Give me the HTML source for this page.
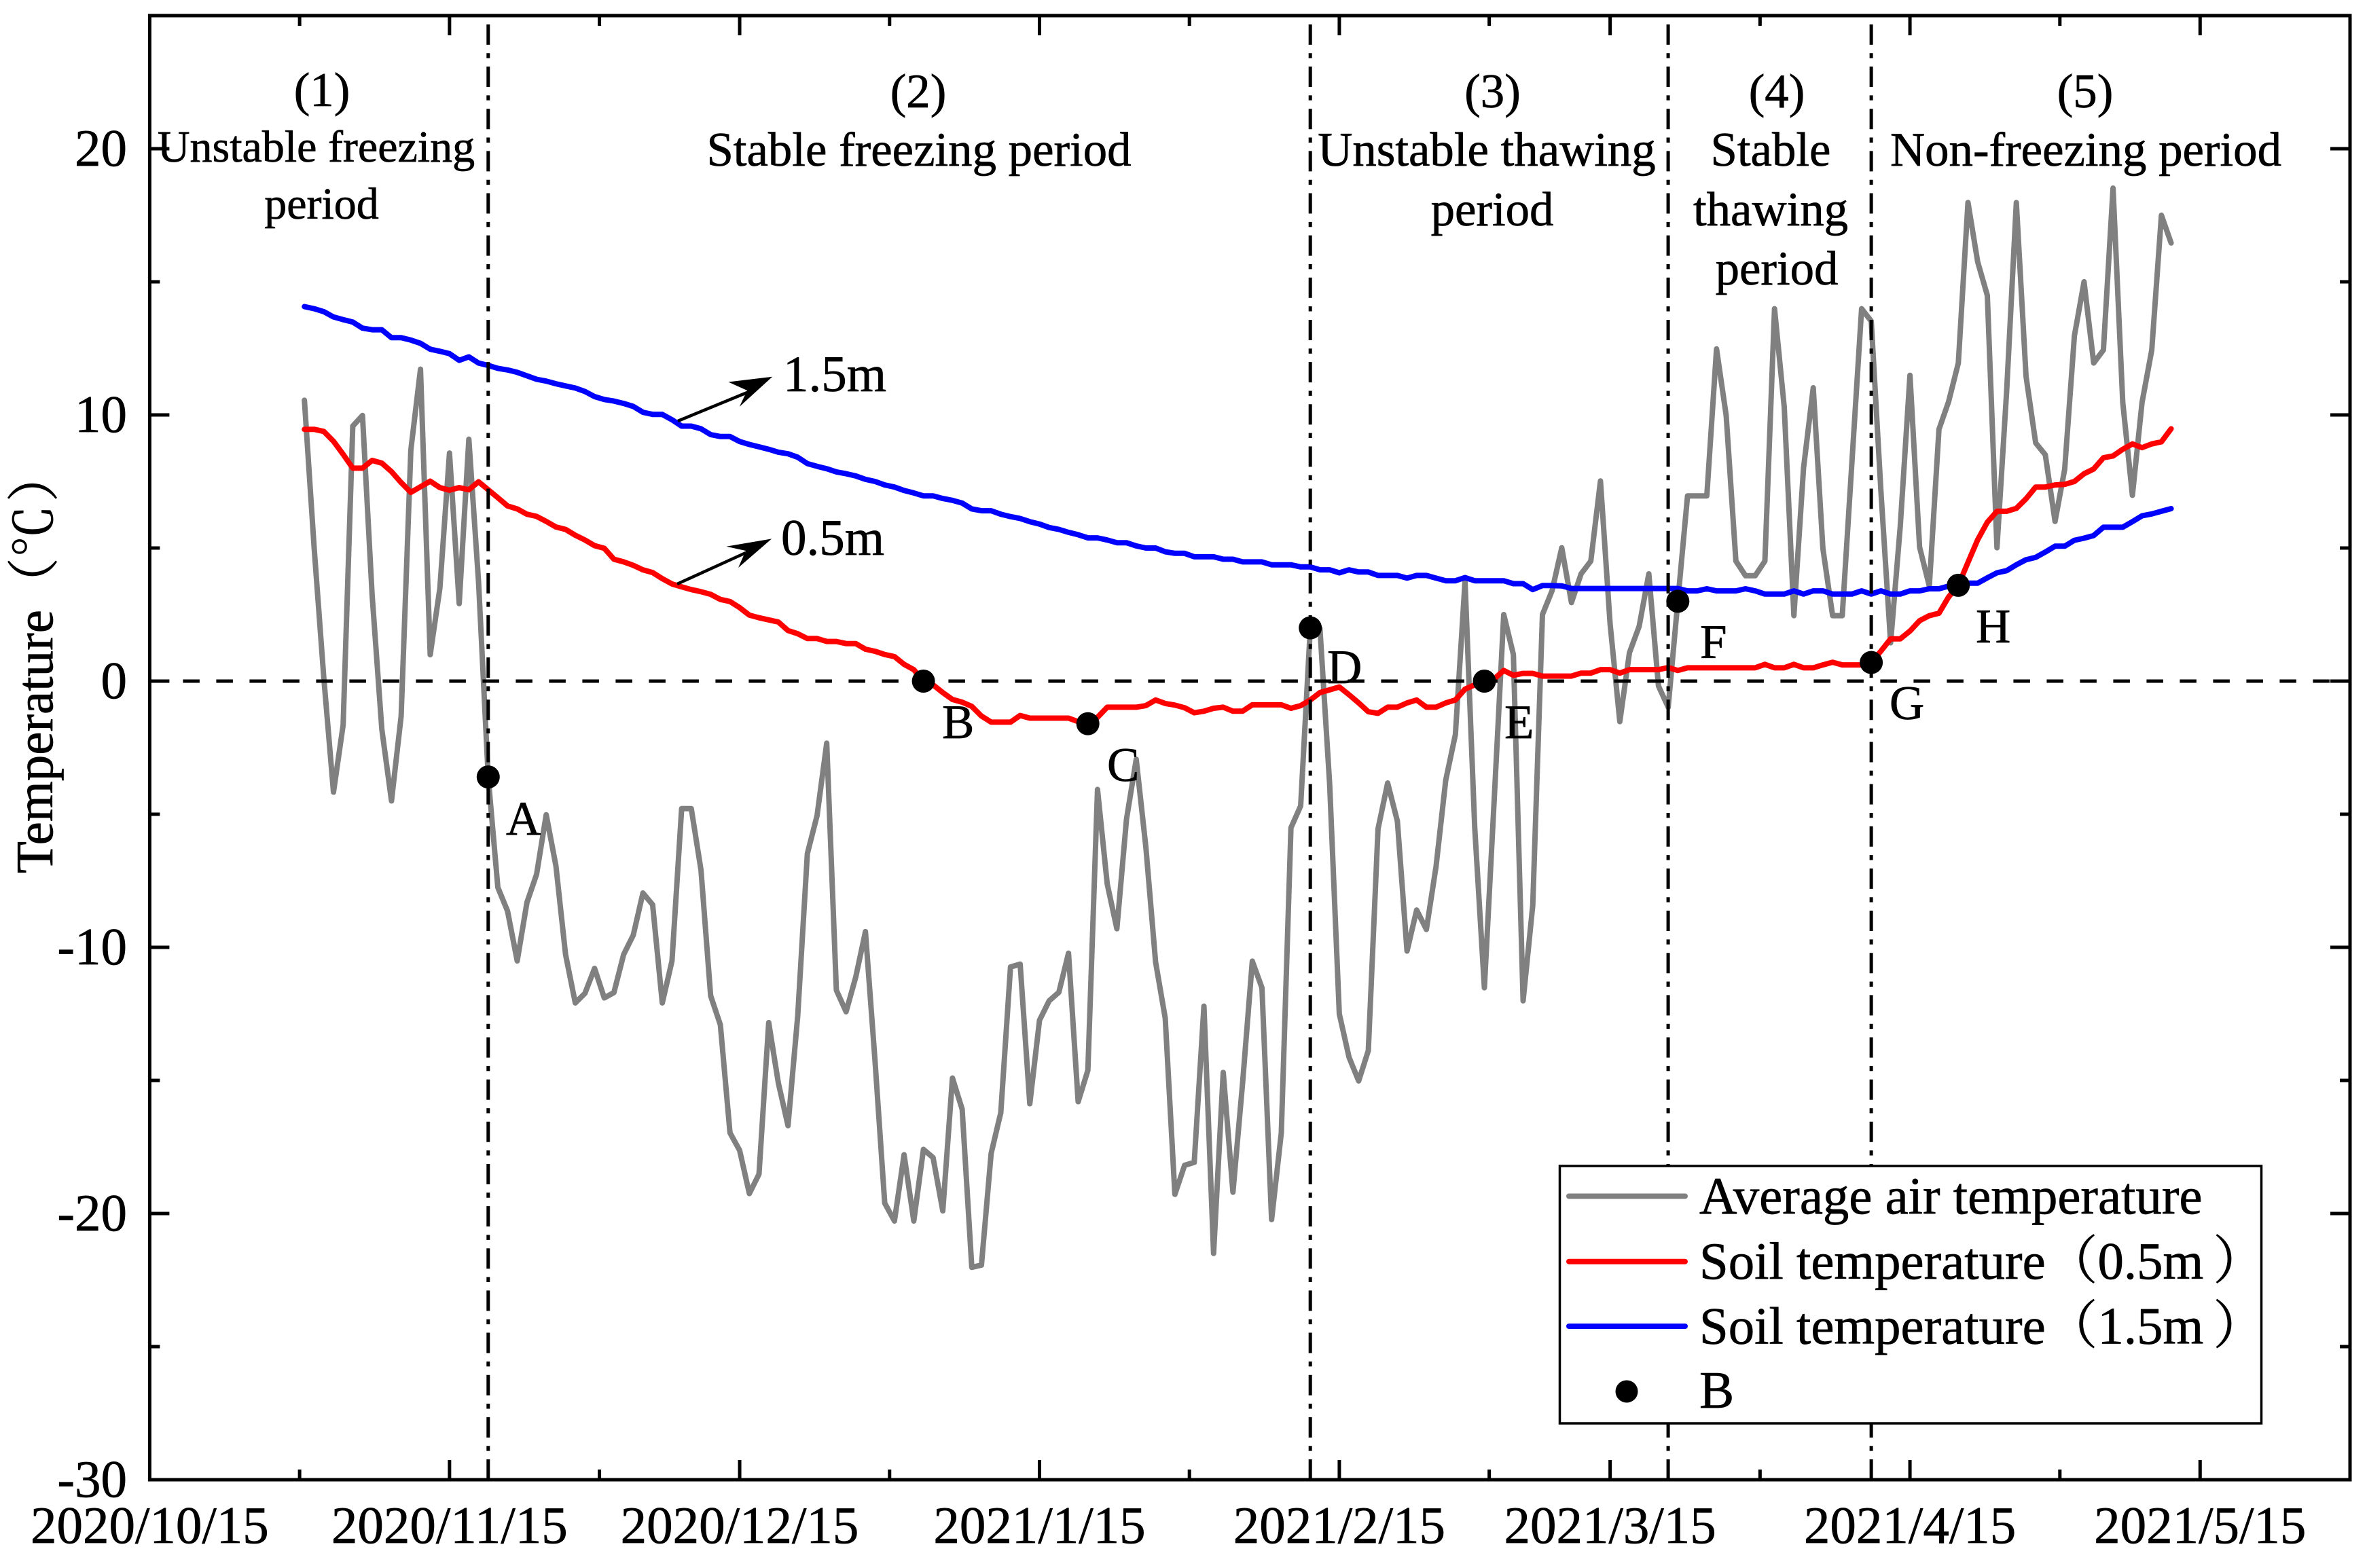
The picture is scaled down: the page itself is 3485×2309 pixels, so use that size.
<!DOCTYPE html>
<html lang="en">
<head>
<meta charset="utf-8">
<title>Air and soil temperature by freezing period</title>
<style>
html,body{margin:0;padding:0;background:#fff;}
svg{display:block;}
text{font-family:"Liberation Serif","Noto Serif CJK SC",serif;fill:#000;stroke:#000;stroke-width:0.7px;}
</style>
</head>
<body>
<svg id="chart" xmlns="http://www.w3.org/2000/svg" width="3485" height="2309" viewBox="0 0 3485 2309">
  <rect x="0" y="0" width="3485" height="2309" fill="#fff"/>
  <g id="series"></g>
  <g id="refs"></g>

  <g>
    <line x1="998" y1="620" x2="1100" y2="578" stroke="#000" stroke-width="4.5"/>
    <polygon points="1137.2,554.8 1072.4,562.5 1100,575 1088.8,598.9" fill="#000"/>
    <text x="1153" y="576" font-size="75">1.5m</text>
    <line x1="997" y1="860" x2="1098" y2="814" stroke="#000" stroke-width="4.5"/>
    <polygon points="1136.2,793.4 1069.4,804.8 1098,811 1087,836" fill="#000"/>
    <text x="1150" y="817" font-size="75">0.5m</text>
  </g>

  <g text-anchor="middle" font-size="70.8">
    <text x="474" y="156">(1)</text>
    <text x="465.5" y="238" font-size="66">Unstable freezing</text>
    <text x="473.5" y="322" font-size="66">period</text>
    <text x="1352" y="158">(2)</text>
    <text x="1353" y="244">Stable freezing period</text>
    <text x="2197.5" y="158">(3)</text>
    <text x="2189" y="244">Unstable thawing</text>
    <text x="2197" y="332">period</text>
    <text x="2616" y="158">(4)</text>
    <text x="2607" y="244">Stable</text>
    <text x="2607" y="332">thawing</text>
    <text x="2616" y="419">period</text>
    <text x="3070" y="158">(5)</text>
    <text x="3071" y="244">Non-freezing period</text>
  </g>

  <g>
    <rect x="2296.5" y="1717" width="1033" height="379" fill="#fff" stroke="#000" stroke-width="3.5"/>
    <line x1="2310" y1="1761.5" x2="2481" y2="1761.5" stroke="#808080" stroke-width="8" stroke-linecap="round"/>
    <text x="2502" y="1787" font-size="76.8">Average air temperature</text>
    <line x1="2310" y1="1857.7" x2="2481" y2="1857.7" stroke="#ff0000" stroke-width="8" stroke-linecap="round"/>
    <text x="2502" y="1883" font-size="76.8">Soil temperature（0.5m<tspan dx="14">）</tspan></text>
    <line x1="2310" y1="1953" x2="2481" y2="1953" stroke="#0000ff" stroke-width="8" stroke-linecap="round"/>
    <text x="2502" y="1978.5" font-size="76.8">Soil temperature（1.5m<tspan dx="14">）</tspan></text>
    <circle cx="2395" cy="2049" r="16.5" fill="#000"/>
    <text x="2502" y="2073" font-size="76.8">B</text>
  </g>

  <g id="marks"></g>

  <g font-size="71">
    <text x="745" y="1229">A</text>
    <text x="1387" y="1087">B</text>
    <text x="1630" y="1150">C</text>
    <text x="1954" y="1006">D</text>
    <text x="2215" y="1087">E</text>
    <text x="2503" y="969">F</text>
    <text x="2782" y="1059">G</text>
    <text x="2909" y="946">H</text>
  </g>

  <g id="axes"></g>
  <text x="77" y="1286" font-size="77" transform="rotate(-90 77 1286)">Temperature（℃<tspan dx="5">）</tspan></text>
</svg>
<script>
const firstDate = '2020/10/31';
const xTickLabels = ['2020/10/15','2020/11/15','2020/12/15','2021/1/15','2021/2/15','2021/3/15','2021/4/15','2021/5/15'];
const yTickLabels = [-30,-20,-10,0,10,20];
const yMinorTicks = [-25,-15,-5,5,15];
const periodBoundaries = ['2020/11/19','2021/2/12','2021/3/21','2021/4/11'];
const pointDates = ['2020/11/19','2021/1/3','2021/1/20','2021/2/12','2021/3/2','2021/3/22','2021/4/11','2021/4/20'];
const pointValues = [-3.6,0,-1.6,2,0,3,0.7,3.6];
const pointNames = ['a','b','c','d','e','f','g','h'];
const airTemp = [
10.55,5.02,0.14,-4.17,-1.65,9.58,9.98,3.23,-1.81,-4.50,
-1.32,8.68,11.72,0.99,3.48,8.57,2.91,9.09,3.72,-3.60,
-7.75,-8.64,-10.51,-8.32,-7.26,-5.02,-6.94,-10.27,-12.09,-11.73,
-10.79,-11.90,-11.70,-10.27,-9.54,-7.96,-8.40,-12.09,-10.51,-4.79,
-4.79,-7.10,-11.82,-12.91,-16.97,-17.63,-19.25,-18.52,-12.83,-15.10,
-16.70,-12.58,-6.48,-5.05,-2.33,-11.61,-12.42,-11.12,-9.41,-14.29,
-19.61,-20.28,-17.79,-20.28,-17.59,-17.90,-19.90,-14.91,-16.08,-22.02,
-21.94,-17.74,-16.21,-10.74,-10.63,-15.88,-12.74,-12.01,-11.69,-10.22,
-15.80,-14.62,-4.07,-7.62,-9.30,-5.18,-2.94,-6.24,-10.55,-12.66,
-19.28,-18.19,-18.08,-12.21,-21.50,-14.70,-19.20,-15.10,-10.52,-11.52,
-20.23,-16.97,-5.51,-4.69,2.00,1.98,-3.88,-12.50,-14.13,-15.02,
-13.88,-5.55,-3.83,-5.26,-10.14,-8.60,-9.33,-6.97,-3.72,-2.01,
3.75,-5.51,-11.52,-4.53,2.50,1.00,-12.01,-8.43,2.50,3.40,
5.01,2.95,4.03,4.51,7.52,2.15,-1.52,1.07,2.06,4.03,
-0.18,-0.98,3.00,6.96,6.96,6.96,12.48,9.98,4.51,3.96,
3.96,4.51,13.99,10.29,2.46,8.00,11.02,4.98,2.46,2.46,
8.21,13.99,13.52,7.11,1.44,5.81,11.49,5.03,3.57,9.46,
10.50,11.95,17.98,15.75,14.49,5.01,10.92,17.98,11.45,8.95,
8.50,6.00,7.96,12.97,15.00,11.95,12.44,18.52,10.47,6.98,
10.47,12.44,17.50,16.46];
const soil05m = [
9.46,9.46,9.38,9.01,8.52,8.00,8.00,8.29,8.19,7.87,
7.46,7.09,7.30,7.51,7.27,7.17,7.27,7.19,7.49,7.19,
6.89,6.58,6.47,6.27,6.19,6.00,5.79,5.70,5.48,5.30,
5.09,4.99,4.58,4.48,4.35,4.18,4.08,3.85,3.65,3.54,
3.44,3.36,3.26,3.07,2.99,2.76,2.48,2.38,2.30,2.22,
1.90,1.78,1.60,1.60,1.49,1.49,1.41,1.41,1.20,1.12,
1.00,0.92,0.63,0.43,0.00,-0.14,-0.43,-0.69,-0.79,-0.95,
-1.31,-1.54,-1.54,-1.54,-1.29,-1.39,-1.39,-1.39,-1.39,-1.39,
-1.52,-1.60,-1.36,-0.98,-0.98,-0.98,-0.98,-0.92,-0.71,-0.84,
-0.90,-1.00,-1.19,-1.13,-1.02,-0.98,-1.13,-1.13,-0.89,-0.89,
-0.89,-0.89,-1.02,-0.92,-0.71,-0.43,-0.33,-0.22,-0.51,-0.82,
-1.15,-1.21,-0.98,-0.98,-0.82,-0.71,-0.98,-0.98,-0.82,-0.71,
-0.30,-0.14,0.00,0.08,0.40,0.22,0.29,0.29,0.19,0.19,
0.19,0.19,0.30,0.30,0.43,0.43,0.30,0.43,0.43,0.43,
0.43,0.51,0.40,0.50,0.50,0.50,0.50,0.50,0.50,0.50,
0.50,0.63,0.50,0.50,0.63,0.50,0.50,0.61,0.71,0.61,
0.61,0.61,0.70,1.13,1.59,1.59,1.88,2.27,2.46,2.55,
3.16,3.60,4.46,5.31,5.97,6.38,6.38,6.49,6.85,7.29,
7.29,7.37,7.39,7.50,7.79,7.97,8.39,8.46,8.71,8.91,
8.77,8.91,8.99,9.48];
const soil15m = [
14.07,13.99,13.88,13.68,13.58,13.49,13.26,13.20,13.20,12.90,
12.90,12.81,12.69,12.47,12.39,12.30,12.05,12.18,11.95,11.86,
11.75,11.69,11.60,11.47,11.34,11.27,11.17,11.09,11.01,10.88,
10.69,10.58,10.52,10.43,10.32,10.10,10.02,10.02,9.82,9.58,
9.58,9.48,9.26,9.19,9.19,9.00,8.89,8.80,8.71,8.60,
8.54,8.41,8.17,8.07,7.98,7.86,7.79,7.71,7.58,7.50,
7.37,7.29,7.16,7.07,6.96,6.96,6.86,6.79,6.69,6.47,
6.40,6.40,6.27,6.18,6.11,5.99,5.90,5.77,5.70,5.59,
5.50,5.38,5.38,5.30,5.20,5.20,5.08,5.00,5.00,4.86,
4.80,4.80,4.67,4.67,4.67,4.58,4.58,4.48,4.48,4.48,
4.37,4.37,4.37,4.29,4.29,4.18,4.18,4.07,4.18,4.10,
4.10,3.97,3.97,3.97,3.87,3.97,3.97,3.87,3.77,3.77,
3.89,3.77,3.77,3.77,3.77,3.66,3.66,3.44,3.59,3.59,
3.58,3.48,3.48,3.48,3.48,3.48,3.48,3.48,3.48,3.48,
3.48,3.48,3.48,3.39,3.39,3.47,3.39,3.39,3.39,3.47,
3.39,3.27,3.27,3.27,3.39,3.27,3.39,3.39,3.27,3.27,
3.27,3.39,3.27,3.39,3.27,3.27,3.39,3.39,3.47,3.47,
3.57,3.57,3.68,3.68,3.88,4.07,4.15,4.37,4.56,4.65,
4.85,5.07,5.07,5.29,5.37,5.47,5.78,5.78,5.78,5.99,
6.21,6.28,6.38,6.48];

const NS = 'http://www.w3.org/2000/svg';
const DAY = 86400000;
const LEFT = 220.4, RIGHT = 3460, TOP = 23, BOTTOM = 2179;
const Y0 = 1003, PX_PER_DEG = 39.2, PX_PER_DAY = 14.24;
const MAJOR = 29, MINOR = 15;

function dayNumber(s) {
  const p = s.split('/').map(Number);
  return Date.UTC(p[0], p[1] - 1, p[2]) / DAY;
}
const originDay = dayNumber(xTickLabels[0]);
function xScale(day) { return LEFT + (day - originDay) * PX_PER_DAY; }
function xDate(s) { return xScale(dayNumber(s)); }
function yScale(v) { return Y0 - v * PX_PER_DEG; }
function make(tag, parent) {
  const el = document.createElementNS(NS, tag);
  parent.appendChild(el);
  return el;
}
function drawLine(parent, x1, y1, x2, y2, width, name) {
  const l = make('line', parent);
  l.setAttribute('x1', x1);
  l.setAttribute('y1', y1);
  l.setAttribute('x2', x2);
  l.setAttribute('y2', y2);
  l.setAttribute('stroke', '#000');
  l.setAttribute('stroke-width', width);
  
  
  return l;
}

const seriesLayer = document.getElementById('series');
function drawSeries(values, color, name) {
  const start = dayNumber(firstDate);
  const pts = values.map((v, i) => xScale(start + i).toFixed(1) + ',' + yScale(v).toFixed(1));
  const p = make('polyline', seriesLayer);
  p.setAttribute('points', pts.join(' '));
  p.setAttribute('fill', 'none');
  p.setAttribute('stroke', color);
  p.setAttribute('stroke-width', '8');
  p.setAttribute('stroke-linejoin', 'round');
  p.setAttribute('stroke-linecap', 'round');
  
  
}
drawSeries(airTemp, '#808080', 'series-average-air-temperature');
drawSeries(soil05m, '#ff0000', 'series-soil-temperature-0-5m');
drawSeries(soil15m, '#0000ff', 'series-soil-temperature-1-5m');

const refs = document.getElementById('refs');
const zeroLine = drawLine(refs, LEFT, yScale(0), RIGHT, yScale(0), 5, 'zero-reference-line');
zeroLine.setAttribute('stroke-dasharray', '24.5 24.5');
periodBoundaries.forEach(function (d, i) {
  const b = drawLine(refs, xDate(d), BOTTOM, xDate(d), 36, 5, 'period-boundary-' + (i + 1));
  b.setAttribute('stroke-dasharray', '30 12.4 7.4 12.35');
});

const marks = document.getElementById('marks');
pointDates.forEach(function (d, i) {
  const c = make('circle', marks);
  c.setAttribute('cx', xDate(d));
  c.setAttribute('cy', yScale(pointValues[i]));
  c.setAttribute('r', '17');
  c.setAttribute('fill', '#000');
  
  
});

const axes = document.getElementById('axes');
const frame = make('rect', axes);
frame.setAttribute('x', LEFT);
frame.setAttribute('y', TOP);
frame.setAttribute('width', RIGHT - LEFT);
frame.setAttribute('height', BOTTOM - TOP);
frame.setAttribute('fill', 'none');
frame.setAttribute('stroke', '#000');
frame.setAttribute('stroke-width', '5');



xTickLabels.forEach(function (label, i) {
  const day = dayNumber(label);
  const x = xScale(day);
  if (i > 0) {
    drawLine(axes, x, BOTTOM, x, BOTTOM - MAJOR, 5, 'x-major-tick');
    drawLine(axes, x, TOP, x, TOP + MAJOR, 5, 'x-major-tick-top');
  }
  const mx = xScale(day + 15.5);
  if (mx < RIGHT - 5) {
    drawLine(axes, mx, BOTTOM, mx, BOTTOM - MINOR, 5, 'x-minor-tick');
    drawLine(axes, mx, TOP, mx, TOP + MINOR, 5, 'x-minor-tick-top');
  }
  const t = make('text', axes);
  t.textContent = label;
  t.setAttribute('x', x);
  t.setAttribute('y', 2272);
  t.setAttribute('font-size', '77');
  t.setAttribute('text-anchor', 'middle');
  
  
});
yTickLabels.forEach(function (v) {
  const y = yScale(v);
  drawLine(axes, LEFT, y, LEFT + MAJOR, y, 5, 'y-major-tick');
  drawLine(axes, RIGHT, y, RIGHT - MAJOR, y, 5, 'y-major-tick-right');
  const t = make('text', axes);
  t.textContent = String(v);
  t.setAttribute('x', 187);
  t.setAttribute('y', y + 25);
  t.setAttribute('font-size', '77');
  t.setAttribute('text-anchor', 'end');
  
  
});
yMinorTicks.forEach(function (v) {
  const y = yScale(v);
  drawLine(axes, LEFT, y, LEFT + MINOR, y, 5, 'y-minor-tick');
  drawLine(axes, RIGHT, y, RIGHT - MINOR, y, 5, 'y-minor-tick-right');
});
</script>
</body>
</html>
